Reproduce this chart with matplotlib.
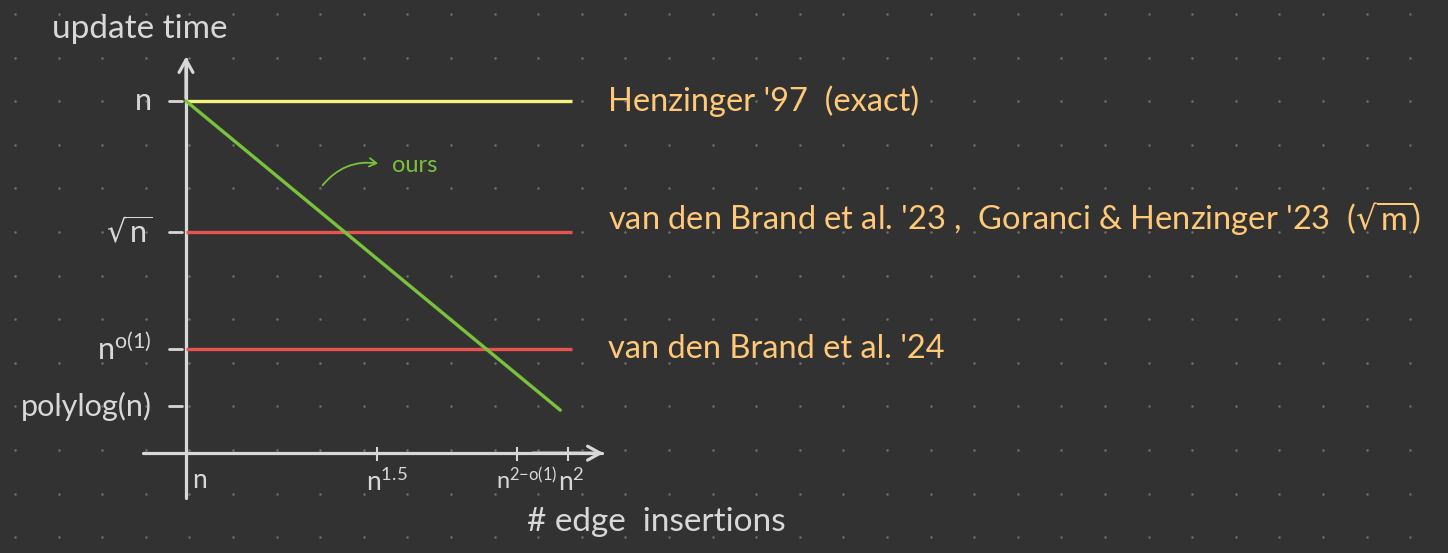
import numpy as np
import matplotlib.pyplot as plt

# exponents of n on both axes
x_ticks = [1.0, 1.5, 1.866, 2.0]
x_tick_labels = ['n', '$n^{1.5}$', '$n^{2{-}o(1)}$', '$n^{2}$']
y_ticks = [1.0, 0.5, 0.053, -0.164]
y_tick_labels = ['n', '$\\sqrt{n}$', '$n^{o(1)}$', 'polylog(n)']

# previous results (horizontal bounds)
bound_levels = [1.0, 0.5, 0.053]
bound_names = ["Henzinger '97  (exact)",
               "van den Brand et al. '23 ,  Goranci & Henzinger '23  ($\\sqrt{m}$)",
               "van den Brand et al. '24"]
bound_colors = ['#f6f27f', '#e8524f', '#e8524f']

# our tradeoff line
ours_x = [1.0, 1.98]
ours_y = [1.0, -0.18]

BG = '#323232'
FG = '#d8d8d8'
LABEL = '#ffc978'
GREEN = '#79c33c'

plt.rcParams['font.family'] = ['Lato', 'DejaVu Sans']
plt.rcParams['mathtext.default'] = 'regular'

fig = plt.figure(figsize=(14.48, 5.53), dpi=100, facecolor=BG)

# dotted paper in the background
bg = fig.add_axes([0, 0, 1, 1])
bg.set_xlim(0, 1448)
bg.set_ylim(553, 0)
bg.axis('off')
gx, gy = np.meshgrid(np.arange(15, 1448, 43.6), np.arange(14, 553, 43.6))
bg.scatter(gx.ravel(), gy.ravel(), s=3.5, color='#6c6c6c', lw=0)

ax = fig.add_axes([0, 0, 1, 1])
ax.patch.set_alpha(0)
ax.set_xlim(0.513, 4.304)
ax.set_ylim(-0.725, 1.3855)
ax.axis('off')

# axes with open arrow heads
ax.plot([1.0, 1.0], [-0.515, 1.16], color=FG, lw=2.3, solid_capstyle='round')
ax.plot([0.887, 2.09], [-0.344, -0.344], color=FG, lw=2.3, solid_capstyle='round')
ax.annotate('', xy=(1.0, 1.18), xytext=(1.0, 1.0),
            arrowprops=dict(arrowstyle='->,head_length=0.9,head_width=0.5',
                            color=FG, lw=2.3))
ax.annotate('', xy=(2.1, -0.344), xytext=(1.9, -0.344),
            arrowprops=dict(arrowstyle='->,head_length=0.9,head_width=0.5',
                            color=FG, lw=2.3))

# bounds
for lvl, name, c in zip(bound_levels, bound_names, bound_colors):
    ax.plot([1.0, 2.01], [lvl, lvl], color=c, lw=2.4, solid_capstyle='butt')
    ax.text(2.105, lvl + (0.05 if lvl == 0.5 else 0.0), name, color=LABEL,
            fontsize=23.5, va='center', ha='left')

ax.plot(ours_x, ours_y, color=GREEN, lw=2.4, solid_capstyle='round', zorder=5)
ax.text(1.54, 0.755, 'ours', color=GREEN, fontsize=17, va='center', ha='left')
ax.annotate('', xy=(1.51, 0.76), xytext=(1.353, 0.67),
            arrowprops=dict(arrowstyle='->,head_length=0.5,head_width=0.3',
                            color=GREEN, lw=1.3,
                            connectionstyle='arc3,rad=-0.3'))

# y ticks
for yv, lab in zip(y_ticks, y_tick_labels):
    ax.plot([0.955, 0.99], [yv, yv], color=FG, lw=2, solid_capstyle='round')
    ax.text(0.91, yv, lab, color=FG, fontsize=22, va='center', ha='right')

# x ticks, labels start just left of each tick
label_shift = {1.0: 0.016, 1.5: -0.03, 1.866: -0.055, 2.0: -0.027}
label_size = {1.0: 19, 1.5: 19, 1.866: 17, 2.0: 19}
for xv, lab in zip(x_ticks, x_tick_labels):
    if xv > 1.0:
        ax.plot([xv, xv], [-0.325, -0.37], color=FG, lw=1.5)
    ax.text(xv + label_shift[xv], -0.4, lab, color=FG,
            fontsize=label_size[xv], va='top', ha='left')

ax.text(0.88, 1.275, 'update time', color=FG, fontsize=24, ha='center', va='center')
ax.text(2.23, -0.607, '# edge  insertions', color=FG, fontsize=24,
        ha='center', va='center')

fig.savefig('out.png', dpi=100, facecolor=BG)
